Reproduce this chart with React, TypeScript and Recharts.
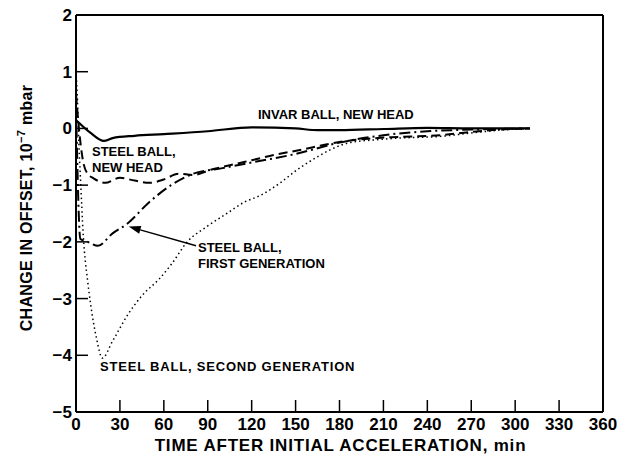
import React from 'react';
import { LineChart, Line, XAxis, YAxis, ReferenceLine } from 'recharts';

// time after initial acceleration (min) and change in offset (1e-7 mbar)
const invarT = [0, 2, 10, 19, 25, 40, 60, 90, 120, 150, 165, 180, 210, 240, 270, 310];
const invarV = [0.15, 0.1, -0.08, -0.22, -0.17, -0.13, -0.1, -0.05, 0.02, 0, -0.03, -0.03, -0.01, 0.01, 0, 0];

const newHeadT = [0, 2, 5, 8, 12, 20, 30, 40, 50, 60, 70, 80, 92, 105, 120, 135, 153, 180, 200, 220, 249, 270, 290, 310];
const newHeadV = [0.6, 0, -0.6, -0.8, -0.88, -0.96, -0.87, -0.92, -0.96, -0.9, -0.8, -0.82, -0.73, -0.65, -0.56, -0.47, -0.38, -0.24, -0.18, -0.15, -0.12, -0.06, -0.02, 0];

const firstGenT = [0, 3, 8, 15, 25, 35, 50, 65, 80, 100, 120, 150, 180, 210, 240, 270, 310];
const firstGenV = [0.4, -1.95, -2.0, -2.07, -1.85, -1.68, -1.3, -1.0, -0.8, -0.7, -0.6, -0.45, -0.25, -0.12, -0.05, -0.02, 0];

const secondGenT = [0, 1, 2, 3, 5, 8, 10, 14, 18, 25, 35, 45, 57, 65, 76, 90, 103, 115, 126, 140, 151, 165, 175, 187, 205, 221, 249, 270, 290, 310];
const secondGenV = [1.0, 0.5, -0.3, -0.85, -1.9, -2.7, -3.1, -3.7, -4.05, -3.75, -3.3, -2.95, -2.65, -2.4, -2.0, -1.72, -1.5, -1.3, -1.18, -0.95, -0.73, -0.5, -0.36, -0.25, -0.2, -0.17, -0.14, -0.08, -0.03, 0];

const xTicks = [0, 30, 60, 90, 120, 150, 180, 210, 240, 270, 300, 330, 360];
const yTicks = [-5, -4, -3, -2, -1, 0, 1, 2];

const toPoints = (ts: number[], vs: number[]) => ts.map((t, i) => ({ t, v: vs[i] }));

const FONT = '"Liberation Sans", Arial, sans-serif';
const tickStyle = { fill: '#000', fontSize: 17, fontWeight: 700, fontFamily: FONT };
const axisLine = { stroke: '#000', strokeWidth: 2 };
const tickLine = { stroke: '#000', strokeWidth: 1.5 };

const fmtY = (v: number) => (v < 0 ? `\u2212${Math.abs(v)}` : `${v}`);

function ArrowShape(props: any) {
  const { x1, y1, x2, y2 } = props;
  if (x1 == null) return null;
  const ang = Math.atan2(y2 - y1, x2 - x1);
  const len = 12;
  const w = 4;
  const bx = x2 - len * Math.cos(ang);
  const by = y2 - len * Math.sin(ang);
  const px = -Math.sin(ang) * w;
  const py = Math.cos(ang) * w;
  return (
    <g>
      <line x1={x1} y1={y1} x2={bx} y2={by} stroke="#000" strokeWidth={1.5} />
      <polygon points={`${x2},${y2} ${bx + px},${by + py} ${bx - px},${by - py}`} fill="#000" />
    </g>
  );
}

const labelStyle: React.CSSProperties = {
  position: 'absolute',
  fontFamily: FONT,
  fontWeight: 700,
  fontSize: 13,
  lineHeight: '16px',
  color: '#000',
  whiteSpace: 'nowrap',
};

export default function App() {
  return (
    <div style={{ position: 'absolute', left: 0, top: 0, width: 629, height: 461, background: '#fff' }}>
      <LineChart width={629} height={461} margin={{ top: 0, right: 0, bottom: 0, left: 0 }}>
        <XAxis
          xAxisId="bottom"
          dataKey="t"
          type="number"
          domain={[0, 360]}
          ticks={xTicks}
          height={49}
          axisLine={axisLine}
          tickLine={tickLine}
          tickSize={-12}
          tickMargin={18}
          tick={tickStyle}
          interval={0}
          allowDataOverflow
        />
        <XAxis
          xAxisId="top"
          orientation="top"
          dataKey="t"
          type="number"
          domain={[0, 360]}
          ticks={xTicks}
          height={15}
          axisLine={axisLine}
          tickLine={tickLine}
          tickSize={-12}
          tick={false}
          interval={0}
        />
        <YAxis
          yAxisId="left"
          type="number"
          domain={[-5, 2]}
          ticks={yTicks}
          width={76}
          axisLine={axisLine}
          tickLine={tickLine}
          tickSize={-12}
          tickMargin={16}
          tick={tickStyle}
          tickFormatter={fmtY}
          interval={0}
          allowDataOverflow
        />
        <YAxis
          yAxisId="right"
          orientation="right"
          type="number"
          domain={[-5, 2]}
          ticks={yTicks}
          width={26}
          axisLine={axisLine}
          tickLine={tickLine}
          tickSize={-12}
          tick={false}
          interval={0}
        />
        <Line
          xAxisId="bottom"
          yAxisId="left"
          data={toPoints(invarT, invarV)}
          dataKey="v"
          type="monotone"
          stroke="#000"
          strokeWidth={2.2}
          dot={false}
          isAnimationActive={false}
        />
        <Line
          xAxisId="bottom"
          yAxisId="left"
          data={toPoints(newHeadT, newHeadV)}
          dataKey="v"
          type="monotone"
          stroke="#000"
          strokeWidth={2}
          strokeDasharray="9 5"
          dot={false}
          isAnimationActive={false}
        />
        <Line
          xAxisId="bottom"
          yAxisId="left"
          data={toPoints(firstGenT, firstGenV)}
          dataKey="v"
          type="monotone"
          stroke="#000"
          strokeWidth={2}
          strokeDasharray="11 4 2 4"
          dot={false}
          isAnimationActive={false}
        />
        <Line
          xAxisId="bottom"
          yAxisId="left"
          data={toPoints(secondGenT, secondGenV)}
          dataKey="v"
          type="monotone"
          stroke="#000"
          strokeWidth={1.5}
          strokeDasharray="1.5 3"
          dot={false}
          isAnimationActive={false}
        />
        <ReferenceLine
          xAxisId="bottom"
          yAxisId="left"
          segment={[{ x: 82, y: -2.07 }, { x: 36, y: -1.73 }]}
          shape={ArrowShape}
          ifOverflow="visible"
        />
      </LineChart>

      <div style={{ ...labelStyle, left: 258, top: 107 }}>INVAR BALL, NEW HEAD</div>
      <div style={{ ...labelStyle, left: 92, top: 144 }}>
        STEEL BALL,
        <br />
        NEW HEAD
      </div>
      <div style={{ ...labelStyle, left: 198, top: 240 }}>
        STEEL BALL,
        <br />
        FIRST GENERATION
      </div>
      <div style={{ ...labelStyle, left: 100, top: 359, letterSpacing: 0.8 }}>STEEL BALL, SECOND GENERATION</div>

      <div
        style={{
          ...labelStyle,
          fontSize: 17,
          letterSpacing: 0.8,
          left: 0,
          width: 629,
          top: 436,
          lineHeight: '20px',
          textAlign: 'center',
          paddingLeft: 52,
          boxSizing: 'border-box',
        }}
      >
        TIME AFTER INITIAL ACCELERATION, min
      </div>
      <div
        style={{
          ...labelStyle,
          fontSize: 16,
          letterSpacing: 0.3,
          left: 27,
          top: 208,
          transform: 'translate(-50%, -50%) rotate(-90deg)',
        }}
      >
        CHANGE IN OFFSET, 10<sup style={{ fontSize: 11, verticalAlign: '0.6em', lineHeight: 0 }}>{'\u22127'}</sup> mbar
      </div>
    </div>
  );
}
